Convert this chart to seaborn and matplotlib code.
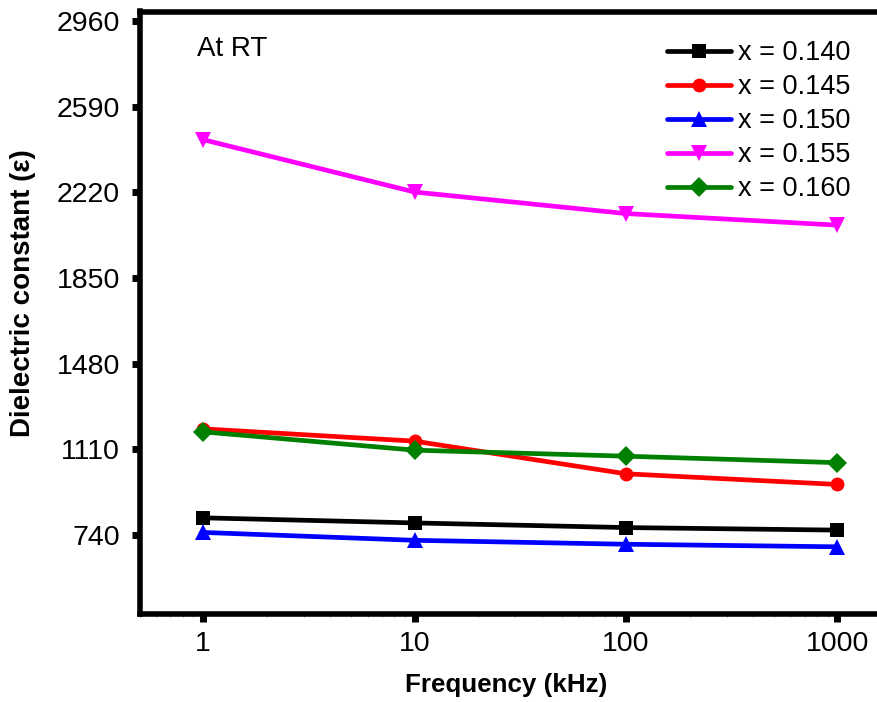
import numpy as np
import pandas as pd
import matplotlib
matplotlib.use("Agg")
import matplotlib.pyplot as plt
import seaborn as sns
from matplotlib.ticker import LogLocator, NullFormatter

# Frequencies (kHz) and dielectric constant for each composition
frequency = [1, 10, 100, 1000]
compositions = ["x = 0.140", "x = 0.145", "x = 0.150", "x = 0.155", "x = 0.160"]
eps_0140 = [815, 793, 773, 762]
eps_0145 = [1199, 1146, 1005, 959]
eps_0150 = [752, 718, 701, 690]
eps_0155 = [2447, 2221, 2128, 2078]
eps_0160 = [1186, 1107, 1081, 1053]
y_ticks = [740, 1110, 1480, 1850, 2220, 2590, 2960]
x_ticks = [1, 10, 100, 1000]

series = [eps_0140, eps_0145, eps_0150, eps_0155, eps_0160]
colors = ["#000000", "#ff0000", "#0000ff", "#ff00ff", "#008000"]
markers = ["s", "o", "^", "v", "D"]
msizes = [9.5, 10, 12, 12, 10]

df = pd.DataFrame({
    "freq": np.tile(frequency, len(compositions)),
    "eps": np.concatenate(series),
    "comp": np.repeat(compositions, len(frequency)),
})

sns.set_style("ticks")
plt.rcParams["font.family"] = ["Liberation Sans", "DejaVu Sans"]
plt.rcParams.update({"text.color": "black", "axes.labelcolor": "black",
                     "xtick.color": "black", "ytick.color": "black",
                     "xtick.labelcolor": "black", "ytick.labelcolor": "black"})

W, H = 877, 702
fig = plt.figure(figsize=(W / 100, H / 100), dpi=100)
ax_left, ax_right, ax_top, ax_bottom = 139.5, 901, 11.5, 614
ax = fig.add_axes([ax_left / W, 1 - ax_bottom / H,
                   (ax_right - ax_left) / W, (ax_bottom - ax_top) / H])

for comp, col, mk, ms in zip(compositions, colors, markers, msizes):
    sub = df[df["comp"] == comp]
    sns.lineplot(data=sub, x="freq", y="eps", ax=ax, color=col, marker=mk,
                 markersize=ms, markeredgewidth=0, linewidth=3.4, label=comp,
                 legend=False)

ax.set_xscale("log")
ax.set_xlim(0.5, 2000)
ax.set_ylim(400, 3000)
ax.set_xticks(x_ticks)
ax.set_xticklabels([str(v) for v in x_ticks])
ax.xaxis.set_minor_locator(LogLocator(base=10, subs=np.arange(2, 10)))
ax.xaxis.set_minor_formatter(NullFormatter())
ax.set_yticks(y_ticks)
ax.set_yticklabels([str(v) for v in y_ticks])
ax.set_xlabel("")
ax.set_ylabel("")

for side in ["left", "bottom", "top"]:
    ax.spines[side].set_linewidth(4)
    ax.spines[side].set_color("black")
ax.spines["right"].set_visible(False)

ax.tick_params(axis="both", which="major", direction="out", length=6,
               width=5, labelsize=20.5, color="black", labelcolor="black",
               pad=6)
ax.tick_params(axis="x", which="minor", direction="inout", length=5,
               width=0.6, color="#777777")
ax.tick_params(axis="y", which="major", pad=8)

leg = ax.legend(loc="upper left", bbox_to_anchor=(667 / W, 1 - 40 / H),
                bbox_transform=fig.transFigure, frameon=False,
                fontsize=19.5, handlelength=2.35, handletextpad=0.28,
                labelspacing=0.3, borderpad=0, borderaxespad=0)
for t in leg.get_texts():
    t.set_color("black")

fig.text(197 / W, 1 - 56 / H, "At RT", fontsize=20, ha="left",
         va="baseline", color="black")
fig.text(506 / W, 1 - 692 / H, "Frequency (kHz)", fontsize=18.7,
         fontweight="bold", ha="center", va="baseline", color="black")
fig.text(23 / W, 1 - 293 / H, "Dielectric constant (ε)", fontsize=20,
         fontweight="bold", ha="center", va="center", rotation=90,
         color="black")

fig.savefig("out.png", dpi=100)
